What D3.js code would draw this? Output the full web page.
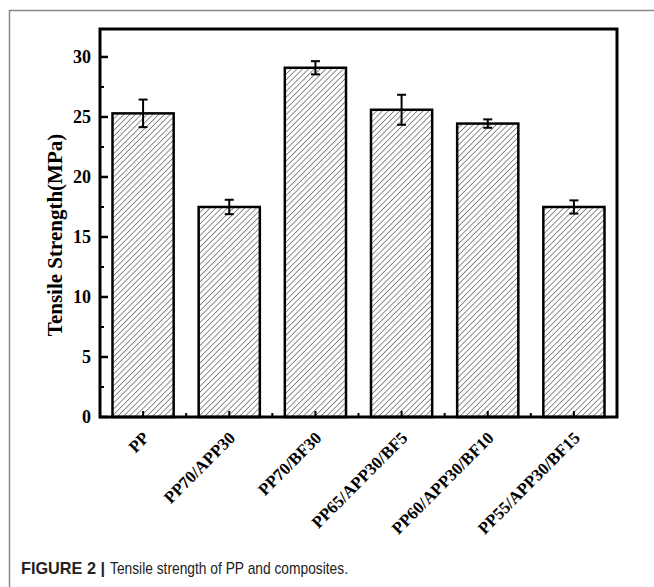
<!DOCTYPE html>
<html lang="en">
<head>
    <meta charset="UTF-8">
    <title>Tensile strength of PP and composites</title>
    <script src="https://d3js.org/d3.v7.min.js"></script>
    <style>
        body {
            margin: 0;
            background: #fff;
        }
        svg {
            display: block;
        }
        .tick-label, .axis-title, .cat-label {
            font-family: "Liberation Serif", "Times New Roman", serif;
            font-weight: bold;
            fill: #000;
        }
        .caption {
            font-family: "Liberation Sans", Arial, sans-serif;
            font-size: 17px;
            fill: #222;
        }
    </style>
</head>
<body>
<div class="viz"></div>
<script>
    const categories = ["PP", "PP70/APP30", "PP70/BF30", "PP65/APP30/BF5", "PP60/APP30/BF10", "PP55/APP30/BF15"];
    const strength = [25.3, 17.5, 29.1, 25.6, 24.45, 17.5];
    const errors = [1.15, 0.6, 0.55, 1.25, 0.35, 0.55];
    const yTicks = [0, 5, 10, 15, 20, 25, 30];
    const yMinorTicks = [2.5, 7.5, 12.5, 17.5, 22.5, 27.5];

    const width = 654, height = 587;
    const plot = { left: 100, top: 29, right: 617, bottom: 417 };

    const svg = d3.select('.viz').append('svg')
        .attr('width', width)
        .attr('height', height);

    // hatch fill for the bars
    const defs = svg.append('defs');
    defs.append('pattern')
        .attr('id', 'hatch')
        .attr('patternUnits', 'userSpaceOnUse')
        .attr('width', 4.1)
        .attr('height', 4.1)
        .attr('patternTransform', 'rotate(45)')
        .append('line')
        .attr('x1', 0).attr('y1', 0)
        .attr('x2', 0).attr('y2', 4.1)
        .attr('stroke', '#333')
        .attr('stroke-width', 1.1);

    // page frame (left + top only)
    svg.append('path')
        .attr('d', `M9.5,${height} V10.5 H${width}`)
        .attr('fill', 'none')
        .attr('stroke', '#8a8a8a')
        .attr('stroke-width', 1.5);

    const x = d3.scaleBand()
        .domain(categories)
        .range([plot.left, plot.right])
        .paddingInner(0.29)
        .paddingOuter(0.145);

    const y = d3.scaleLinear()
        .domain([0, 32.33])
        .range([plot.bottom, plot.top]);

    // bars
    svg.append('g').selectAll('rect')
        .data(categories)
        .enter().append('rect')
        .attr('x', d => x(d))
        .attr('y', (d, i) => y(strength[i]))
        .attr('width', x.bandwidth())
        .attr('height', (d, i) => y(0) - y(strength[i]))
        .attr('fill', 'url(#hatch)')
        .attr('stroke', '#000')
        .attr('stroke-width', 2.5);

    // error bars
    const eb = svg.append('g').attr('stroke', '#000').attr('stroke-width', 2);
    categories.forEach((c, i) => {
        const cx = x(c) + x.bandwidth() / 2;
        const hi = y(strength[i] + errors[i]);
        const lo = y(strength[i] - errors[i]);
        eb.append('line').attr('x1', cx).attr('x2', cx).attr('y1', hi).attr('y2', lo);
        eb.append('line').attr('x1', cx - 4.5).attr('x2', cx + 4.5).attr('y1', hi).attr('y2', hi);
        eb.append('line').attr('x1', cx - 4.5).attr('x2', cx + 4.5).attr('y1', lo).attr('y2', lo);
    });

    // frame of the plot
    svg.append('rect')
        .attr('x', plot.left)
        .attr('y', plot.top)
        .attr('width', plot.right - plot.left)
        .attr('height', plot.bottom - plot.top)
        .attr('fill', 'none')
        .attr('stroke', '#000')
        .attr('stroke-width', 3);

    // y axis: inward ticks
    const yAxis = svg.append('g');
    yAxis.selectAll('.major')
        .data(yTicks)
        .enter().append('line')
        .attr('x1', plot.left).attr('x2', plot.left + 8)
        .attr('y1', d => y(d)).attr('y2', d => y(d))
        .attr('stroke', '#000').attr('stroke-width', 2.5);
    yAxis.selectAll('.minor')
        .data(yMinorTicks)
        .enter().append('line')
        .attr('x1', plot.left).attr('x2', plot.left + 4)
        .attr('y1', d => y(d)).attr('y2', d => y(d))
        .attr('stroke', '#000').attr('stroke-width', 2);
    yAxis.selectAll('text')
        .data(yTicks)
        .enter().append('text')
        .attr('class', 'tick-label')
        .attr('x', plot.left - 9)
        .attr('y', d => y(d))
        .attr('dy', '0.35em')
        .attr('text-anchor', 'end')
        .style('font-size', '18px')
        .text(d => d);

    // x axis: ticks at bar centres and between bars
    const xAxis = svg.append('g');
    xAxis.selectAll('.major')
        .data(categories)
        .enter().append('line')
        .attr('x1', d => x(d) + x.bandwidth() / 2).attr('x2', d => x(d) + x.bandwidth() / 2)
        .attr('y1', plot.bottom).attr('y2', plot.bottom - 6)
        .attr('stroke', '#000').attr('stroke-width', 2);
    xAxis.selectAll('.minor')
        .data(categories.slice(1))
        .enter().append('line')
        .attr('x1', d => x(d) - x.step() * x.paddingInner() / 2)
        .attr('x2', d => x(d) - x.step() * x.paddingInner() / 2)
        .attr('y1', plot.bottom).attr('y2', plot.bottom - 4)
        .attr('stroke', '#000').attr('stroke-width', 2);
    xAxis.selectAll('text')
        .data(categories)
        .enter().append('text')
        .attr('class', 'cat-label')
        .attr('text-anchor', 'end')
        .attr('transform', d => `translate(${x(d) + x.bandwidth() / 2 + 7},${plot.bottom + 22}) rotate(-45)`)
        .style('font-size', '17px')
        .text(d => d);

    // axis title
    svg.append('text')
        .attr('class', 'axis-title')
        .attr('transform', `translate(62,${(plot.top + plot.bottom) / 2 + 12}) rotate(-90)`)
        .attr('text-anchor', 'middle')
        .style('font-size', '21px')
        .text('Tensile Strength(MPa)');

    // caption, squeezed to the condensed width of the original
    svg.append('text')
        .attr('class', 'caption')
        .attr('x', 21)
        .attr('y', 574)
        .attr('font-weight', 'bold')
        .attr('textLength', 84)
        .attr('lengthAdjust', 'spacingAndGlyphs')
        .text('FIGURE 2 |');
    svg.append('text')
        .attr('class', 'caption')
        .attr('x', 110)
        .attr('y', 574)
        .attr('textLength', 238)
        .attr('lengthAdjust', 'spacingAndGlyphs')
        .text('Tensile strength of PP and composites.');
</script>
</body>
</html>
